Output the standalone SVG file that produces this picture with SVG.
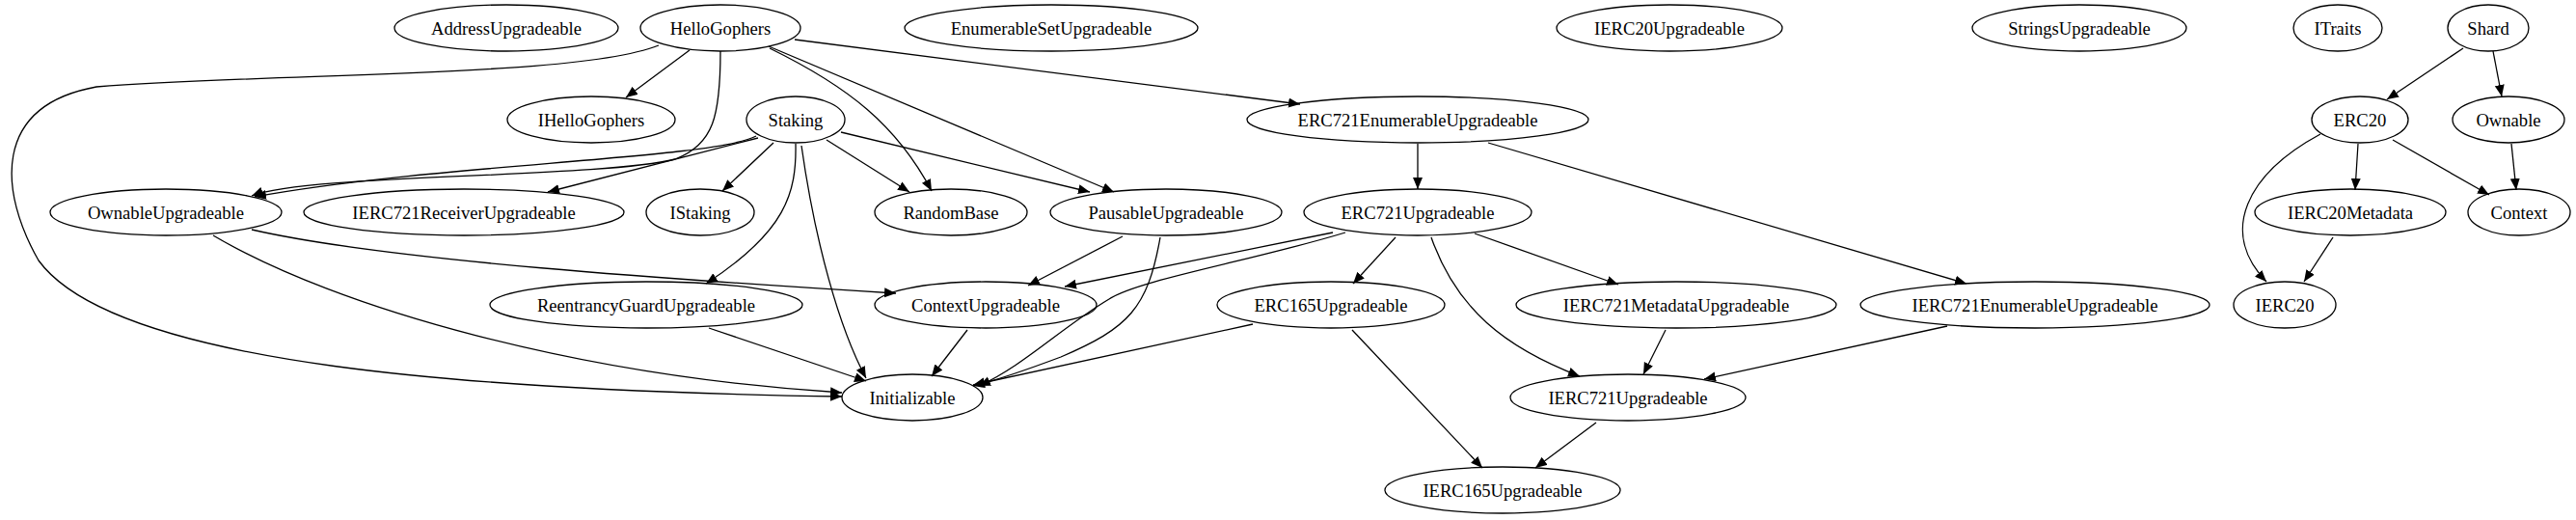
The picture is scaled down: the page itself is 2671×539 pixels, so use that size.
<svg xmlns="http://www.w3.org/2000/svg" width="2671" height="539" viewBox="0 0 2671 539">
<style>
.n ellipse{fill:none;stroke:#000;stroke-width:1.3}
.n text{font-family:"Liberation Serif",serif;font-size:18.6px;text-anchor:middle;dominant-baseline:central;fill:#000}
#edges path{fill:none;stroke:#000;stroke-width:1.3;marker-end:url(#ah)}
</style>
<defs><marker id="ah" markerUnits="userSpaceOnUse" markerWidth="14" markerHeight="12" refX="12" refY="5" orient="auto"><path d="M0,0 L12,5 L0,10 z" fill="#000"/></marker></defs>
<rect width="2671" height="539" fill="#fff"/>
<g id="edges">
<path d="M683,47 C600,80 300,75 100,90 C-10,110 0,200 40,270 C120,380 500,405 873,411"/>
<path d="M715,52 L649,101"/>
<path d="M747,53 C747,120 740,150 700,165 C620,185 320,180 261,203"/>
<path d="M798,50 C880,90 930,130 966,198"/>
<path d="M797,48 L1155,199"/>
<path d="M824,41 L1348,108"/>
<path d="M784,141 C740,165 450,170 264,204"/>
<path d="M786,143 L568,199"/>
<path d="M802,148 L749,198"/>
<path d="M857,145 L943,199"/>
<path d="M872,137 L1130,199"/>
<path d="M825,149 C826,200 815,240 732,294"/>
<path d="M831,151 C845,250 870,340 898,392"/>
<path d="M261,238 C400,270 700,290 929,304"/>
<path d="M221,244 C350,320 600,390 873,407"/>
<path d="M735,340 L898,395"/>
<path d="M1164,245 L1066,296"/>
<path d="M1203,246 C1190,320 1170,340 1100,370 C1060,385 1030,395 1009,400"/>
<path d="M1003,342 L966,390"/>
<path d="M1470,149 L1470,196"/>
<path d="M1543,148 L2039,294"/>
<path d="M1382,241 L1104,297"/>
<path d="M1395,241 C1300,270 1180,290 1150,310 C1100,340 1060,380 1015,400"/>
<path d="M1447,246 L1403,294"/>
<path d="M1484,246 C1510,320 1560,360 1638,390"/>
<path d="M1529,242 L1678,295"/>
<path d="M1299,336 L1009,399"/>
<path d="M1402,342 L1537,485"/>
<path d="M1727,342 L1704,388"/>
<path d="M2019,338 L1767,393"/>
<path d="M1655,438 L1592,485"/>
<path d="M2554,50 L2475,103"/>
<path d="M2585,53 L2594,100"/>
<path d="M2406,139 C2330,180 2300,240 2350,292"/>
<path d="M2445,149 L2442,197"/>
<path d="M2481,145 L2581,202"/>
<path d="M2604,149 L2609,197"/>
<path d="M2419,246 L2389,292"/>
</g>
<g id="AddressUpgradeable" class="n"><ellipse cx="525" cy="29" rx="116" ry="24"/><text x="525" y="29">AddressUpgradeable</text></g>
<g id="HelloGophers" class="n"><ellipse cx="747" cy="29" rx="83" ry="24"/><text x="747" y="29">HelloGophers</text></g>
<g id="EnumerableSetUpgradeable" class="n"><ellipse cx="1090" cy="29" rx="152" ry="24"/><text x="1090" y="29">EnumerableSetUpgradeable</text></g>
<g id="IERC20Upgradeable" class="n"><ellipse cx="1731" cy="29" rx="117" ry="24"/><text x="1731" y="29">IERC20Upgradeable</text></g>
<g id="StringsUpgradeable" class="n"><ellipse cx="2156" cy="29" rx="111" ry="24"/><text x="2156" y="29">StringsUpgradeable</text></g>
<g id="ITraits" class="n"><ellipse cx="2424" cy="29" rx="46" ry="24"/><text x="2424" y="29">ITraits</text></g>
<g id="Shard" class="n"><ellipse cx="2580" cy="29" rx="42" ry="24"/><text x="2580" y="29">Shard</text></g>
<g id="IHelloGophers" class="n"><ellipse cx="613" cy="124" rx="87" ry="24"/><text x="613" y="124">IHelloGophers</text></g>
<g id="Staking" class="n"><ellipse cx="825" cy="124" rx="51" ry="24"/><text x="825" y="124">Staking</text></g>
<g id="ERC721EnumerableUpgradeable" class="n"><ellipse cx="1470" cy="124" rx="177" ry="24"/><text x="1470" y="124">ERC721EnumerableUpgradeable</text></g>
<g id="ERC20" class="n"><ellipse cx="2447" cy="124" rx="50" ry="24"/><text x="2447" y="124">ERC20</text></g>
<g id="Ownable" class="n"><ellipse cx="2601" cy="124" rx="58" ry="24"/><text x="2601" y="124">Ownable</text></g>
<g id="OwnableUpgradeable" class="n"><ellipse cx="172" cy="220" rx="120" ry="24"/><text x="172" y="220">OwnableUpgradeable</text></g>
<g id="IERC721ReceiverUpgradeable" class="n"><ellipse cx="481" cy="220" rx="166" ry="24"/><text x="481" y="220">IERC721ReceiverUpgradeable</text></g>
<g id="IStaking" class="n"><ellipse cx="726" cy="220" rx="56" ry="24"/><text x="726" y="220">IStaking</text></g>
<g id="RandomBase" class="n"><ellipse cx="986" cy="220" rx="79" ry="24"/><text x="986" y="220">RandomBase</text></g>
<g id="PausableUpgradeable" class="n"><ellipse cx="1209" cy="220" rx="120" ry="24"/><text x="1209" y="220">PausableUpgradeable</text></g>
<g id="ERC721Upgradeable" class="n"><ellipse cx="1470" cy="220" rx="118" ry="24"/><text x="1470" y="220">ERC721Upgradeable</text></g>
<g id="IERC20Metadata" class="n"><ellipse cx="2437" cy="220" rx="99" ry="24"/><text x="2437" y="220">IERC20Metadata</text></g>
<g id="Context" class="n"><ellipse cx="2612" cy="220" rx="53" ry="24"/><text x="2612" y="220">Context</text></g>
<g id="ReentrancyGuardUpgradeable" class="n"><ellipse cx="670" cy="316" rx="162" ry="24"/><text x="670" y="316">ReentrancyGuardUpgradeable</text></g>
<g id="ContextUpgradeable" class="n"><ellipse cx="1022" cy="316" rx="115" ry="24"/><text x="1022" y="316">ContextUpgradeable</text></g>
<g id="ERC165Upgradeable" class="n"><ellipse cx="1380" cy="316" rx="118" ry="24"/><text x="1380" y="316">ERC165Upgradeable</text></g>
<g id="IERC721MetadataUpgradeable" class="n"><ellipse cx="1738" cy="316" rx="166" ry="24"/><text x="1738" y="316">IERC721MetadataUpgradeable</text></g>
<g id="IERC721EnumerableUpgradeable" class="n"><ellipse cx="2110" cy="316" rx="181" ry="24"/><text x="2110" y="316">IERC721EnumerableUpgradeable</text></g>
<g id="IERC20" class="n"><ellipse cx="2369" cy="316" rx="53" ry="24"/><text x="2369" y="316">IERC20</text></g>
<g id="Initializable" class="n"><ellipse cx="946" cy="412" rx="73" ry="24"/><text x="946" y="412">Initializable</text></g>
<g id="IERC721Upgradeable" class="n"><ellipse cx="1688" cy="412" rx="122" ry="24"/><text x="1688" y="412">IERC721Upgradeable</text></g>
<g id="IERC165Upgradeable" class="n"><ellipse cx="1558" cy="508" rx="122" ry="24"/><text x="1558" y="508">IERC165Upgradeable</text></g>
</svg>
